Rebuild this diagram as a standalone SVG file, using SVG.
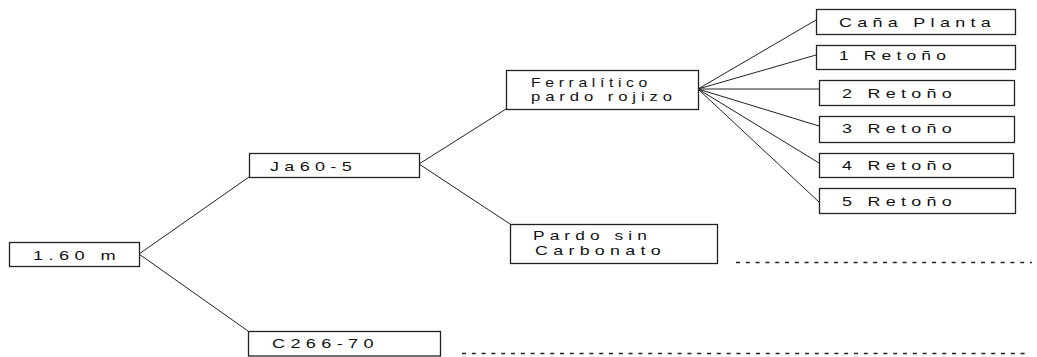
<svg xmlns="http://www.w3.org/2000/svg" width="1037" height="357" viewBox="0 0 1037 357">
<style>
.box{fill:#fff;stroke:#222;stroke-width:1.3}
.lbl{font-family:"Liberation Sans",Arial,sans-serif;font-size:13.5px;letter-spacing:4px;fill:#111}
.ln{stroke:#222;stroke-width:1;fill:none}
.dash{stroke:#222;stroke-width:1.5;stroke-dasharray:4 5.8;fill:none}
</style>
<rect width="1037" height="357" fill="#fff"/>
<g id="connectors">
<line class="ln" x1="139" y1="254" x2="249" y2="177"/>
<line class="ln" x1="139" y1="254" x2="248" y2="331"/>
<line class="ln" x1="419" y1="164" x2="506" y2="109"/>
<line class="ln" x1="419" y1="164" x2="510" y2="224"/>
<line class="ln" x1="698" y1="89" x2="816" y2="20"/>
<line class="ln" x1="698" y1="89" x2="816" y2="55"/>
<line class="ln" x1="698" y1="89" x2="819" y2="89"/>
<line class="ln" x1="698" y1="89" x2="819" y2="126"/>
<line class="ln" x1="698" y1="89" x2="819" y2="163"/>
<line class="ln" x1="698" y1="89" x2="819" y2="202"/>
<line class="dash" x1="736" y1="262.5" x2="1032" y2="262.5"/>
<line class="dash" x1="462" y1="353.5" x2="1026" y2="353.5"/>
</g>
<g id="n-160m"><rect class="box" x="9.5" y="242.5" width="130" height="24"/><text class="lbl" x="33" y="259.5" textLength="88" lengthAdjust="spacingAndGlyphs">1.60 m</text></g>
<g id="n-ja605"><rect class="box" x="249.5" y="153.5" width="170" height="24"/><text class="lbl" x="270" y="170.5" textLength="87" lengthAdjust="spacingAndGlyphs">Ja60-5</text></g>
<g id="n-c26670"><rect class="box" x="248.5" y="331.5" width="192" height="24.5"/><text class="lbl" x="272" y="347.5" textLength="107" lengthAdjust="spacingAndGlyphs">C266-70</text></g>
<g id="n-ferralitico"><rect class="box" x="506.5" y="70.5" width="192" height="39"/><text class="lbl" x="531" y="86.5" textLength="121" lengthAdjust="spacingAndGlyphs">Ferralítico</text><text class="lbl" x="531" y="100.5" textLength="146" lengthAdjust="spacingAndGlyphs">pardo rojizo</text></g>
<g id="n-pardo"><rect class="box" x="510.5" y="224.5" width="207" height="39"/><text class="lbl" x="533" y="239.5" textLength="119" lengthAdjust="spacingAndGlyphs">Pardo sin</text><text class="lbl" x="535" y="254.5" textLength="131" lengthAdjust="spacingAndGlyphs">Carbonato</text></g>
<g id="n-cana"><rect class="box" x="816.5" y="9.5" width="199" height="25"/><text class="lbl" x="839" y="26.5" textLength="157" lengthAdjust="spacingAndGlyphs">Caña Planta</text></g>
<g id="n-r1"><rect class="box" x="816.5" y="45.5" width="199" height="24"/><text class="lbl" x="839" y="59.5" textLength="112" lengthAdjust="spacingAndGlyphs">1 Retoño</text></g>
<g id="n-r2"><rect class="box" x="819.5" y="80.5" width="195" height="25"/><text class="lbl" x="842" y="97.5" textLength="115" lengthAdjust="spacingAndGlyphs">2 Retoño</text></g>
<g id="n-r3"><rect class="box" x="819.5" y="116.5" width="195" height="26"/><text class="lbl" x="842" y="132.5" textLength="115" lengthAdjust="spacingAndGlyphs">3 Retoño</text></g>
<g id="n-r4"><rect class="box" x="819.5" y="153.5" width="194" height="24"/><text class="lbl" x="842" y="169.5" textLength="115" lengthAdjust="spacingAndGlyphs">4 Retoño</text></g>
<g id="n-r5"><rect class="box" x="819.5" y="188.5" width="196" height="25"/><text class="lbl" x="842" y="205.5" textLength="115" lengthAdjust="spacingAndGlyphs">5 Retoño</text></g>
</svg>
